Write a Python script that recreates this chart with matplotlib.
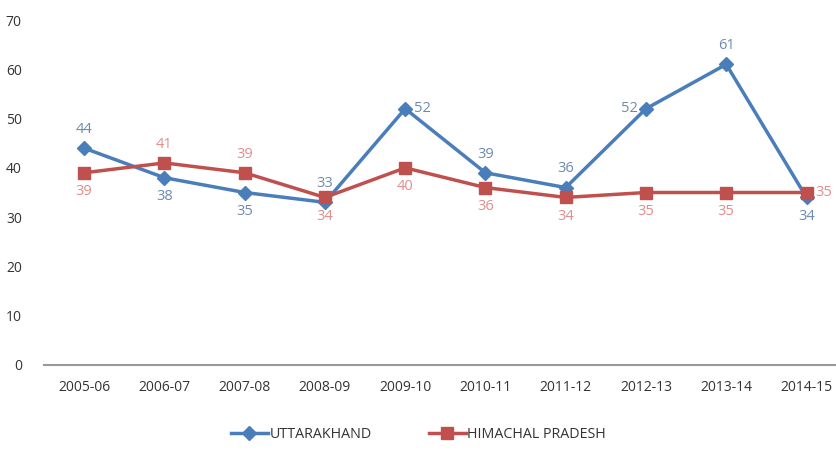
import matplotlib
matplotlib.use("Agg")
import matplotlib.pyplot as plt

years = ["2005-06", "2006-07", "2007-08", "2008-09", "2009-10",
         "2010-11", "2011-12", "2012-13", "2013-14", "2014-15"]
uttarakhand = [44, 38, 35, 33, 52, 39, 36, 52, 61, 34]
himachal = [39, 41, 39, 34, 40, 36, 34, 35, 35, 35]

# label placement per point
uk_pos = ["a", "b", "b", "a", "r", "a", "a", "l", "a", "b"]
hp_pos = ["b", "a", "a", "b", "b", "b", "b", "b", "b", "r"]

plt.rcParams['font.family'] = ['Open Sans', 'DejaVu Sans']

blue = "#4a7ebb"
red = "#c0504d"

fig = plt.figure(figsize=(8.37, 4.55), dpi=100)
ax = fig.add_axes([44/837, 90/455, 1 - 44/837, 345/455])

x = list(range(len(years)))
ax.plot(x, uttarakhand, color=blue, lw=2.5, marker="D", ms=7, label="UTTARAKHAND")
ax.plot(x, himachal, color=red, lw=2.5, marker="s", ms=9, label="HIMACHAL PRADESH")

offs = {"a": (0, 8, "center", "bottom"), "b": (0, -8, "center", "top"),
        "r": (6, 0, "left", "center"), "l": (-6, 0, "right", "center")}
for xi, v, p in zip(x, uttarakhand, uk_pos):
    dx, dy, ha, va = offs[p]
    ax.annotate(str(v), (xi, v), xytext=(dx, dy), textcoords="offset points",
                ha=ha, va=va, fontsize=10.5, color="#6c8ab0")
for xi, v, p in zip(x, himachal, hp_pos):
    dx, dy, ha, va = offs[p]
    ax.annotate(str(v), (xi, v), xytext=(dx, dy), textcoords="offset points",
                ha=ha, va=va, fontsize=10.5, color="#de8e8b")

ax.set_xlim(-0.5, 9.38)
ax.set_ylim(0, 70)
ax.set_yticks(range(0, 71, 10))
ax.set_xticks(x)
ax.set_xticklabels(years)
ax.tick_params(axis="both", length=0, labelsize=10, colors="#333333")
ax.tick_params(axis="x", pad=11)
ax.tick_params(axis="y", pad=16)
for s in ["top", "right", "left"]:
    ax.spines[s].set_visible(False)
ax.spines["bottom"].set_color("#999999")
ax.spines["bottom"].set_linewidth(1.5)

fig.legend(loc="center", bbox_to_anchor=(0.5, 20/455), ncol=2, frameon=False,
           fontsize=10.3, handlelength=2.6, columnspacing=4, labelcolor="#333333",
           handletextpad=0.1)

fig.savefig("out.png", dpi=100)
